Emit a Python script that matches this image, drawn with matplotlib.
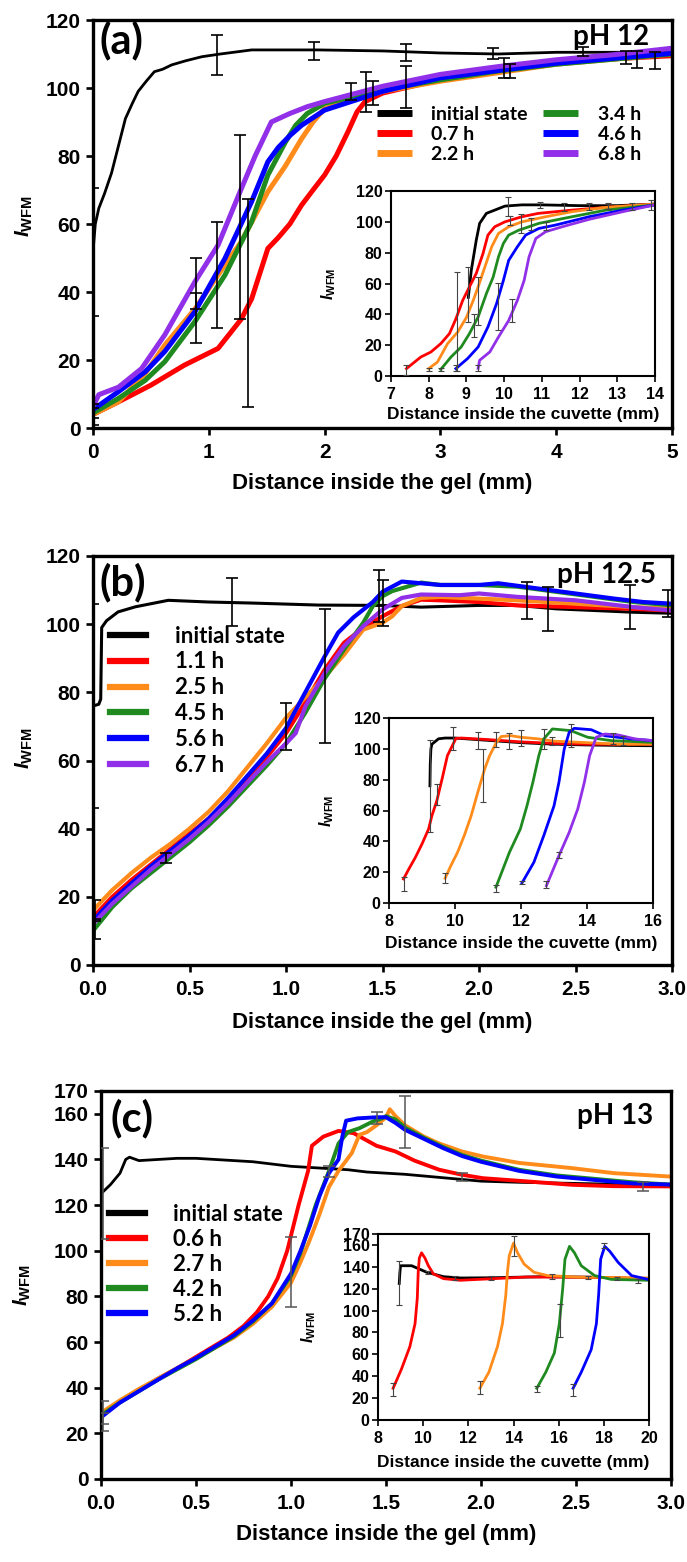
import matplotlib
matplotlib.use('Agg')
import matplotlib.pyplot as plt

plt.rcParams['font.family'] = ['Liberation Sans', 'DejaVu Sans']
plt.rcParams['font.weight'] = 'bold'
plt.rcParams['mathtext.fontset'] = 'custom'
plt.rcParams['mathtext.it'] = 'Liberation Sans:italic:bold'
plt.rcParams['mathtext.rm'] = 'Liberation Sans:bold'
plt.rcParams['mathtext.bf'] = 'Liberation Sans:bold'

# ---------------- panel (a), pH 12 ----------------
a_x_init = [0, 0.02, 0.05, 0.1, 0.16, 0.22, 0.28, 0.34, 0.39, 0.46, 0.53, 0.6, 0.68, 0.8, 0.94, 1.1, 1.37, 1.94, 2.5, 3.0, 3.5, 4.0, 4.5, 5.0]
a_y_init = [51.9, 60, 64.6, 69, 75, 83, 91, 95.5, 99, 102, 104.8, 105.5, 106.8, 108, 109.2, 110, 111.2, 111.2, 110.9, 110.3, 110, 110.5, 110.5, 110.5]
a_x_07 = [0, 0.22, 0.5, 0.79, 1.08, 1.28, 1.37, 1.51, 1.6, 1.7, 1.8, 1.9, 2.0, 2.1, 2.2, 2.28, 2.35, 2.5, 3.0, 3.5, 4.0, 4.5, 5.0]
a_y_07 = [4, 7.7, 12.6, 18.5, 23.4, 32, 38, 52.8, 56, 60, 65.5, 70, 74.4, 80, 87, 93, 96, 98.5, 102.5, 105.4, 107.3, 108.6, 109.5]
a_x_22 = [0, 0.22, 0.45, 0.62, 0.88, 1.08, 1.28, 1.51, 1.66, 1.8, 1.9, 2.0, 2.5, 3.0, 4.0, 5.0]
a_y_22 = [4, 7.7, 16, 24.4, 35, 45, 54.8, 69.5, 77, 85, 90, 94, 99, 102, 107, 110]
a_x_34 = [0, 0.22, 0.45, 0.62, 0.88, 1.14, 1.37, 1.51, 1.66, 1.75, 1.85, 2.0, 2.5, 3.0, 3.5, 4.0, 5.0]
a_y_34 = [4.4, 8.7, 14, 19.5, 31.3, 45, 60.7, 74.4, 84, 89, 92.5, 95.5, 99.5, 102.4, 105, 107, 110]
a_x_46 = [0, 0.22, 0.45, 0.62, 0.88, 1.14, 1.37, 1.51, 1.6, 1.7, 1.8, 2.0, 2.5, 3.0, 4.0, 5.0]
a_y_46 = [5.4, 10.7, 16.5, 22.5, 34.2, 49.9, 66.6, 78.3, 82.5, 86, 89, 93.5, 99, 103, 107.3, 110.2]
a_x_68 = [0, 0.05, 0.22, 0.42, 0.62, 0.88, 1.08, 1.27, 1.4, 1.54, 1.7, 1.85, 2.0, 2.5, 3.0, 3.5, 4.0, 4.5, 5.0]
a_y_68 = [6.3, 9.8, 12, 17.5, 27.4, 43, 53.8, 69.5, 80, 90, 92.5, 94.5, 96, 100.5, 104, 106.3, 108.3, 109.8, 111.7]
a_labels = ['initial state', '0.7 h', '2.2 h', '3.4 h', '4.6 h', '6.8 h']
a_err_x = [0.0, 0.0, 0.0, 0.89, 0.89, 1.07, 1.07, 1.27, 1.34, 1.91, 2.23, 2.36, 2.42, 2.7, 2.7, 3.45, 3.55, 3.6, 4.23, 4.6, 4.7, 4.85]
a_err_lo = [33, 1, 3, 25, 35, 103.8, 29.3, 32.2, 6.3, 108.2, 96.5, 93, 95, 94, 108, 108.5, 103, 103, 109.5, 107, 106, 105.5]
a_err_hi = [70.5, 7, 6, 50, 39.6, 115.6, 60.7, 86.2, 67.5, 113.6, 101.4, 104.8, 102, 106.5, 112.8, 111.7, 108.7, 107, 112, 111, 111, 110.5]

ai_x_init = [9.05, 9.13, 9.26, 9.35, 9.53, 9.75, 10.02, 10.47, 11.0, 12.0, 13.0, 14.0]
ai_y_init = [51, 68.7, 88, 99, 105.5, 107.6, 110.2, 111, 111, 110.5, 110.5, 111.5]
ai_x_07 = [7.41, 7.79, 8.06, 8.32, 8.55, 8.72, 8.9, 9.08, 9.26, 9.44, 9.57, 9.75, 10.02, 10.47, 10.91, 11.8, 12.7, 14.0]
ai_y_07 = [4.8, 12.3, 15.6, 21, 27.5, 37, 49, 57.8, 66.5, 79.5, 91.4, 96.8, 100, 103.3, 105.5, 107.6, 109.4, 111.5]
ai_x_22 = [8.0, 8.23, 8.5, 8.77, 9.0, 9.18, 9.31, 9.49, 9.67, 9.85, 10.12, 10.47, 11.1, 11.8, 12.7, 14.0]
ai_y_22 = [4.8, 9, 21, 28.6, 38, 49, 57.8, 70.8, 83.8, 92.5, 96.8, 100, 103.3, 106.6, 109.4, 111.5]
ai_x_34 = [8.32, 8.59, 8.86, 9.08, 9.31, 9.53, 9.71, 9.85, 9.98, 10.12, 10.39, 10.92, 11.8, 12.7, 14.0]
ai_y_34 = [4.3, 12.3, 18.8, 27.5, 38.3, 53.5, 64.3, 77.3, 86, 91.4, 94.6, 99, 103.3, 107.6, 111]
ai_x_46 = [8.72, 9.03, 9.31, 9.57, 9.8, 9.98, 10.12, 10.35, 10.57, 10.92, 11.36, 12.25, 13.15, 14.0]
ai_y_46 = [4.8, 11.3, 18.8, 31.8, 47, 62, 75, 83.8, 91.4, 95.7, 97.9, 103.3, 107.6, 111]
ai_x_68 = [9.31, 9.35, 9.62, 9.85, 10.12, 10.35, 10.53, 10.66, 10.84, 11.1, 11.54, 12.25, 13.15, 14.0]
ai_y_68 = [5, 10.2, 15.6, 25.3, 36, 49, 62, 77.3, 89.2, 93.6, 96.8, 101.6, 106.6, 111]
ai_err_x = [7.41, 8.0, 8.32, 8.72, 9.31, 8.75, 9.05, 9.2, 9.3, 9.85, 10.2, 10.1, 10.15, 10.45, 10.7, 10.95, 11.1, 11.6, 12.25, 12.75, 13.4, 13.9]
ai_err_lo = [0.5, 3, 3.5, 3, 3, 3, 35, 25.3, 33, 29.7, 35, 104, 98, 93, 95, 108.7, 94.7, 107, 107.5, 108.5, 108, 108]
ai_err_hi = [7, 5.5, 5, 7, 7, 67.5, 70.5, 40, 64.3, 60.6, 50, 115.9, 104, 104.8, 102.5, 112.6, 100, 112.4, 112, 112.5, 112, 114]

# ---------------- panel (b), pH 12.5 ----------------
b_x_init = [0, 0.03, 0.04, 0.045, 0.07, 0.13, 0.22, 0.39, 0.6, 0.82, 1.17, 1.5, 1.7, 2.0, 2.2, 2.4, 2.6, 2.8, 3.0]
b_y_init = [76, 76.5, 78, 99, 101, 103.6, 105.1, 107, 106.5, 106.2, 105.6, 105.5, 105, 105.5, 105.5, 104.5, 104, 103.5, 103.2]
b_x_11 = [0, 0.1, 0.2, 0.3, 0.4, 0.5, 0.6, 0.7, 0.8, 0.9, 1.0, 1.1, 1.2, 1.3, 1.4, 1.5, 1.6, 1.7, 1.8, 2.0, 2.2, 2.5, 2.8, 3.0]
b_y_11 = [14, 20, 25, 29.5, 34, 38.5, 43, 48.5, 54.5, 61, 68, 77, 86.6, 94.5, 98.9, 102.3, 105.3, 107.2, 107, 106.5, 105.5, 105, 104.5, 104]
b_x_25 = [0, 0.1, 0.2, 0.3, 0.4, 0.5, 0.6, 0.7, 0.8, 0.9, 1.0, 1.1, 1.2, 1.3, 1.4, 1.5, 1.55, 1.6, 1.7, 1.8, 2.0, 2.2, 2.5, 2.8, 3.0]
b_y_25 = [16, 22, 27, 31.5, 35.5, 40, 45, 51, 58, 65, 72.5, 78.5, 84.5, 91, 98.4, 100.4, 102.3, 105.3, 107.7, 108, 107.5, 107, 106, 105, 104.5]
b_x_45 = [0, 0.1, 0.2, 0.3, 0.4, 0.5, 0.6, 0.7, 0.8, 0.9, 1.0, 1.1, 1.2, 1.3, 1.4, 1.45, 1.5, 1.55, 1.7, 1.8, 2.0, 2.2, 2.4, 2.6, 2.8, 3.0]
b_y_45 = [10, 17, 22.5, 27, 31.5, 36, 41, 46.5, 52.5, 58.5, 65, 74, 84, 92.5, 100.4, 105.3, 108.2, 109.7, 112.2, 111.5, 111.5, 111, 109.5, 108, 106.5, 105.5]
b_x_56 = [0, 0.1, 0.2, 0.3, 0.4, 0.5, 0.6, 0.7, 0.8, 0.9, 1.0, 1.1, 1.2, 1.27, 1.35, 1.45, 1.5, 1.55, 1.6, 1.7, 1.8, 2.0, 2.1, 2.3, 2.5, 2.7, 2.85, 3.0]
b_y_56 = [13, 19, 24, 29, 33.5, 38, 43, 49, 55.5, 62, 69.5, 80, 90.5, 97.5, 102, 106.5, 109.5, 111, 112.5, 112, 111.5, 111.5, 112, 110.5, 109, 107.5, 106.5, 106]
b_x_67 = [0, 0.1, 0.2, 0.3, 0.4, 0.5, 0.6, 0.7, 0.8, 0.9, 1.0, 1.05, 1.1, 1.2, 1.3, 1.4, 1.5, 1.6, 1.7, 1.9, 2.0, 2.2, 2.5, 2.8, 3.0]
b_y_67 = [12, 18, 23, 28, 32.5, 37, 42, 47.5, 53.5, 59.5, 65, 68, 75.8, 85.6, 93.5, 99.4, 104.3, 107.7, 108.7, 108.5, 109, 108, 107, 105, 104]
b_labels = ['initial state', '1.1 h', '2.5 h', '4.5 h', '5.6 h', '6.7 h']
b_err_x = [0.0, 0.01, 0.01, 0.38, 0.72, 1.0, 1.2, 1.48, 1.5, 2.25, 2.36, 2.78, 2.98]
b_err_lo = [46, 7.5, 13, 30, 99.5, 63, 65, 100.5, 99.5, 101.5, 98, 98.5, 102]
b_err_hi = [106, 13.5, 19, 33, 113.5, 77, 104.5, 116, 113, 112.5, 111, 111.5, 110]

bi_x_init = [9.24, 9.25, 9.27, 9.3, 9.5, 9.7, 10.0, 11.0, 12.0, 13.0, 14.0, 15.0, 16.0]
bi_y_init = [76, 90, 100, 103, 106.5, 107, 107, 105.5, 104, 103, 102.5, 102.2, 102]
bi_x_11 = [8.44, 8.6, 8.8, 9.0, 9.2, 9.3, 9.45, 9.62, 9.77, 10.03, 10.2, 11.0, 12.0, 13.0, 14.0, 16.0]
bi_y_11 = [15.6, 22, 29.6, 38.3, 48, 56.6, 66.4, 81.5, 95.6, 106.8, 107, 106, 104.5, 103.5, 103, 103]
bi_x_25 = [9.7, 9.87, 10.08, 10.28, 10.49, 10.69, 10.9, 11.05, 11.25, 11.4, 11.7, 12.0, 12.5, 13.0, 14.0, 15.0, 16.0]
bi_y_25 = [16, 24, 33, 43.7, 56.6, 71.8, 87, 95.6, 104, 108, 108.5, 107.5, 106.5, 105, 104, 103, 103]
bi_x_45 = [11.24, 11.65, 11.98, 12.18, 12.36, 12.54, 12.69, 12.95, 13.51, 14.02, 14.74, 16.0]
bi_y_45 = [10.2, 32.9, 48, 63, 78.3, 95.6, 106.4, 112.9, 111.8, 107.5, 105.3, 104.2]
bi_x_56 = [12.03, 12.39, 12.69, 13.0, 13.15, 13.31, 13.46, 13.61, 14.13, 14.54, 15.36, 16.0]
bi_y_56 = [13, 26.4, 43.7, 63, 78.3, 99.9, 110.7, 113.3, 112.4, 108.5, 106.4, 105.3]
bi_x_67 = [12.77, 13.15, 13.46, 13.72, 13.92, 14.08, 14.28, 14.54, 14.95, 15.46, 16.0]
bi_y_67 = [11.2, 30.7, 45.8, 61, 78.3, 95.6, 107.5, 109.6, 109, 106.4, 105.3]
bi_err_x = [9.24, 9.45, 8.44, 9.7, 11.24, 12.03, 12.77, 13.15, 9.95, 10.85, 10.7, 11.25, 11.65, 12.0, 12.7, 12.95, 13.5, 14.78, 15.1]
bi_err_lo = [45.8, 63.6, 8, 13, 7, 12.5, 9.5, 29, 99.5, 65.3, 100, 101, 100, 102, 100, 102.5, 101, 103, 102.5]
bi_err_hi = [106, 77, 17, 19.5, 12, 14, 14, 33, 114, 100, 111, 111, 110, 112, 113, 107.5, 116, 110, 108]

# ---------------- panel (c), pH 13 ----------------
c_x_init = [0, 0.05, 0.1, 0.13, 0.15, 0.2, 0.3, 0.4, 0.5, 0.6, 0.7, 0.8, 0.9, 1.0, 1.1, 1.2, 1.3, 1.4, 1.5, 1.6, 1.8, 2.0, 2.2, 2.5, 2.8, 3.0]
c_y_init = [125, 129, 134, 140, 141, 139.5, 140, 140.5, 140.5, 140, 139.5, 139, 138, 137, 136.5, 136, 135.5, 134.5, 134, 133.5, 132, 130.5, 130, 129.5, 129, 128.5]
c_x_06 = [0, 0.1, 0.2, 0.3, 0.4, 0.5, 0.6, 0.67, 0.75, 0.82, 0.88, 0.93, 0.98, 1.04, 1.09, 1.11, 1.17, 1.25, 1.33, 1.45, 1.55, 1.65, 1.78, 1.9, 2.01, 2.24, 2.48, 2.7, 3.0]
c_y_06 = [28, 34, 39, 44, 48.5, 53.5, 58.5, 62, 67, 73, 80, 88, 100, 120, 135, 146, 150, 152.5, 151.5, 146, 143.5, 139.5, 135.5, 133.3, 131.8, 130.4, 128.9, 128.3, 128.2]
c_x_27 = [0, 0.1, 0.2, 0.3, 0.4, 0.5, 0.6, 0.7, 0.8, 0.9, 1.0, 1.05, 1.1, 1.15, 1.2, 1.25, 1.32, 1.36, 1.4, 1.45, 1.5, 1.52, 1.55, 1.6, 1.7, 1.78, 1.9, 2.01, 2.2, 2.48, 2.7, 3.0]
c_y_27 = [29, 34.5, 39.5, 44, 48.5, 53, 57.5, 62, 68, 75.5, 86, 95, 105, 116, 128, 135, 142.8, 150.8, 152, 155, 158.5, 162, 159, 155, 150, 147, 143.5, 141.3, 138.5, 136.2, 134, 132.5]
c_x_42 = [0, 0.1, 0.2, 0.3, 0.4, 0.5, 0.6, 0.7, 0.8, 0.9, 1.0, 1.05, 1.13, 1.2, 1.25, 1.3, 1.36, 1.43, 1.48, 1.5, 1.55, 1.6, 1.7, 1.8, 1.9, 2.0, 2.2, 2.4, 2.6, 2.8, 3.0]
c_y_42 = [28, 33.5, 38.5, 43.5, 48, 52.5, 57.5, 62.5, 69, 77, 89, 99, 120, 135, 147, 152, 153.7, 156.6, 158, 159, 157.5, 154, 149.5, 145.5, 142, 139.5, 135.5, 133, 131.5, 130, 129]
c_x_52 = [0, 0.1, 0.2, 0.3, 0.4, 0.5, 0.6, 0.7, 0.8, 0.9, 1.0, 1.05, 1.1, 1.15, 1.2, 1.25, 1.27, 1.29, 1.35, 1.45, 1.5, 1.55, 1.6, 1.7, 1.8, 1.9, 2.0, 2.1, 2.2, 2.4, 2.6, 2.8, 3.0]
c_y_52 = [27, 33.5, 38.5, 43.5, 48.5, 53, 58, 63, 69.5, 77, 90, 100, 111, 124, 134, 140, 150, 157, 158, 158.5, 158.5, 156, 153, 149, 145, 141.5, 139, 137, 135, 132.5, 131, 129.5, 129]
c_labels = ['initial state', '0.6 h', '2.7 h', '4.2 h', '5.2 h']
c_err_x = [0.01, 0.01, 0.01, 1.0, 1.2, 1.45, 1.6, 1.9, 2.85]
c_err_lo = [105, 21, 24, 75.5, 132.5, 155.5, 145, 130.5, 126]
c_err_hi = [145, 29, 34, 106, 137, 161, 168, 134, 130]

ci_x_init = [8.94, 8.97, 9.0, 9.49, 10.16, 10.9, 11.64, 13.0, 15.36, 17.5, 20.0]
ci_y_init = [124.8, 135, 141, 141, 135, 131, 129.8, 130, 131, 130.5, 129]
ci_x_06 = [8.67, 9.04, 9.41, 9.64, 9.74, 9.78, 9.83, 9.93, 10.08, 10.23, 10.45, 10.9, 11.64, 13.13, 14.62, 17.59, 20.0]
ci_y_06 = [29, 46.6, 67, 88, 111.5, 135, 148, 152.8, 148, 141, 133.6, 129.2, 127.7, 129.2, 130.7, 130.4, 129.2]
ci_x_27 = [12.51, 12.91, 13.29, 13.51, 13.66, 13.73, 13.81, 14.0, 14.18, 14.47, 14.91, 15.51, 16.85, 20.0]
ci_y_27 = [29, 43.7, 67, 88, 114.5, 135, 150, 161.7, 152.8, 142.5, 135, 132, 130.6, 129.8]
ci_x_42 = [15.03, 15.43, 15.81, 16.03, 16.18, 16.28, 16.48, 16.7, 17.0, 17.59, 18.33, 20.0]
ci_y_42 = [29, 43.7, 61.3, 88, 120.4, 147, 158.7, 152.8, 141, 132, 128.5, 127.7]
ci_x_52 = [16.64, 17.0, 17.44, 17.67, 17.77, 17.86, 18.04, 18.26, 18.64, 19.23, 20.0]
ci_y_52 = [29, 43.7, 64.3, 88, 114.5, 147, 158.7, 154.3, 143.9, 132, 128.3]
ci_err_x = [8.67, 8.95, 12.5, 14.0, 15.03, 16.05, 16.64, 18.0, 10.2, 11.4, 13.0, 15.7, 17.3, 18.6, 19.5]
ci_err_lo = [22, 105, 24, 150, 26, 75.5, 22, 157, 133, 128, 128, 129, 129, 128, 125]
ci_err_hi = [34, 145, 36, 168, 31, 105.6, 33, 162, 136, 132, 132, 133, 132, 131, 129]

col6 = ['black', '#ff0000', '#ff8c1a', '#1f8a1f', '#0000ff', '#9130e8']
col5 = ['black', '#ff0000', '#ff8c1a', '#1f8a1f', '#0000ff']

fig = plt.figure(figsize=(6.87, 15.62), dpi=100)
W, H = 687.0, 1562.0


def box(l, t, r, b):
    return [l / W, 1 - b / H, (r - l) / W, (b - t) / H]


def errs(ax, x, lo, hi, color, lw, cap):
    mid = [(p + q) / 2 for p, q in zip(lo, hi)]
    half = [(q - p) / 2 for p, q in zip(lo, hi)]
    ax.errorbar(x, mid, yerr=half, fmt='none', ecolor=color, elinewidth=lw,
                capsize=cap, capthick=lw, zorder=6)


def style(ax, xlim, ylim, xt, xtl, yt, size, spine_w, tick_len, pad):
    ax.set_xlim(*xlim)
    ax.set_ylim(*ylim)
    ax.set_xticks(xt)
    ax.set_xticklabels(xtl)
    ax.set_yticks(yt)
    ax.set_yticklabels([str(v) for v in yt])
    for s in ax.spines.values():
        s.set_linewidth(spine_w)
    ax.tick_params(direction='out', length=tick_len, width=spine_w * 0.8,
                   labelsize=size)
    ax.tick_params(axis='x', pad=pad + 2)
    ax.tick_params(axis='y', pad=pad)
    for lab in ax.get_xticklabels() + ax.get_yticklabels():
        lab.set_fontweight('bold')


ylab = r'$I_{\mathrm{WFM}}$'

# ================= (a) =================
ax = fig.add_axes(box(93, 20, 672, 428))
xs = [a_x_init, a_x_07, a_x_22, a_x_34, a_x_46, a_x_68]
ys = [a_y_init, a_y_07, a_y_22, a_y_34, a_y_46, a_y_68]
for i in range(6):
    ax.plot(xs[i], ys[i], color=col6[i], lw=2.0 if i == 0 else 3.6,
            label=a_labels[i], solid_capstyle='butt')
errs(ax, a_err_x, a_err_lo, a_err_hi, 'black', 1.2, 4.5)
style(ax, (0, 5), (0, 120), [0, 1, 2, 3, 4, 5], ['0', '1', '2', '3', '4', '5'],
      [0, 20, 40, 60, 80, 100, 120], 15, 2.4, 5, 4)
ax.set_xlabel('Distance inside the gel (mm)', fontsize=16, fontweight='bold')
ax.xaxis.set_label_coords(0.5, -0.11)
ax.set_ylabel(ylab, fontsize=15)
ax.yaxis.set_label_coords(-0.1, 0.52)
ax.text(0.012, 0.998, '(a)', transform=ax.transAxes, fontsize=30,
        fontweight='bold', va='top', ha='left', family='Lato')
ax.text(0.96, 0.99, 'pH 12', transform=ax.transAxes, fontsize=20,
        fontweight='bold', va='top', ha='right', family='Lato')
leg = ax.legend(ncol=2, loc='upper left', bbox_to_anchor=(0.49, 0.79),
                frameon=False, handlelength=1.8,
                handletextpad=1.0, columnspacing=0.8, labelspacing=0.15,
                borderpad=0, borderaxespad=0, prop={'family': 'Lato', 'weight': 'bold', 'size': 14})
for h in leg.get_lines():
    h.set_linewidth(5)

ins = fig.add_axes(box(391, 191, 655, 376))
xs = [ai_x_init, ai_x_07, ai_x_22, ai_x_34, ai_x_46, ai_x_68]
ys = [ai_y_init, ai_y_07, ai_y_22, ai_y_34, ai_y_46, ai_y_68]
for i in range(6):
    ins.plot(xs[i], ys[i], color=col6[i], lw=2.0)
errs(ins, ai_err_x, ai_err_lo, ai_err_hi, '#444444', 0.8, 2.5)
style(ins, (7, 14), (0, 120), list(range(7, 15)), [str(v) for v in range(7, 15)],
      [0, 20, 40, 60, 80, 100, 120], 11.5, 1.5, 4, 2)
ins.set_xlabel('Distance inside the cuvette (mm)', fontsize=12.5, fontweight='bold')
ins.xaxis.set_label_coords(0.5, -0.17)
ins.set_ylabel(ylab, fontsize=11.5)
ins.yaxis.set_label_coords(-0.2, 0.5)

# ================= (b) =================
ax = fig.add_axes(box(93, 556, 672, 965))
xs = [b_x_init, b_x_11, b_x_25, b_x_45, b_x_56, b_x_67]
ys = [b_y_init, b_y_11, b_y_25, b_y_45, b_y_56, b_y_67]
for i in range(6):
    ax.plot(xs[i], ys[i], color=col6[i], lw=2.2 if i == 0 else 3.0,
            label=b_labels[i])
errs(ax, b_err_x, b_err_lo, b_err_hi, 'black', 1.2, 4.5)
bx = [0.0, 0.5, 1.0, 1.5, 2.0, 2.5, 3.0]
style(ax, (0, 3), (0, 120), bx, ['%.1f' % v for v in bx],
      [0, 20, 40, 60, 80, 100, 120], 15, 2.4, 5, 4)
ax.set_xlabel('Distance inside the gel (mm)', fontsize=16, fontweight='bold')
ax.xaxis.set_label_coords(0.5, -0.115)
ax.set_ylabel(ylab, fontsize=15)
ax.yaxis.set_label_coords(-0.1, 0.53)
ax.text(0.012, 0.985, '(b)', transform=ax.transAxes, fontsize=30,
        fontweight='bold', va='top', ha='left', family='Lato')
ax.text(0.972, 0.985, 'pH 12.5', transform=ax.transAxes, fontsize=20,
        fontweight='bold', va='top', ha='right', family='Lato')
leg = ax.legend(loc='upper left', bbox_to_anchor=(0.03, 0.83),
                frameon=False, handlelength=1.6, handletextpad=1.3,
                labelspacing=0.22, borderpad=0, borderaxespad=0,
                prop={'family': 'Lato', 'weight': 'bold', 'size': 16})
for h in leg.get_lines():
    h.set_linewidth(4.5)

ins = fig.add_axes(box(389, 718, 653, 903))
xs = [bi_x_init, bi_x_11, bi_x_25, bi_x_45, bi_x_56, bi_x_67]
ys = [bi_y_init, bi_y_11, bi_y_25, bi_y_45, bi_y_56, bi_y_67]
for i in range(6):
    ins.plot(xs[i], ys[i], color=col6[i], lw=2.0)
errs(ins, bi_err_x, bi_err_lo, bi_err_hi, '#444444', 0.8, 2.5)
style(ins, (8, 16), (0, 120), [8, 10, 12, 14, 16], ['8', '10', '12', '14', '16'],
      [0, 20, 40, 60, 80, 100, 120], 11.5, 1.5, 4, 2)
ins.set_xlabel('Distance inside the cuvette (mm)', fontsize=12.5, fontweight='bold')
ins.xaxis.set_label_coords(0.5, -0.18)
ins.set_ylabel(ylab, fontsize=11.5)
ins.yaxis.set_label_coords(-0.2, 0.5)

# ================= (c) =================
ax = fig.add_axes(box(101, 1091, 671, 1479))
xs = [c_x_init, c_x_06, c_x_27, c_x_42, c_x_52]
ys = [c_y_init, c_y_06, c_y_27, c_y_42, c_y_52]
for i in range(5):
    ax.plot(xs[i], ys[i], color=col5[i], lw=2.0 if i == 0 else 2.8,
            label=c_labels[i])
errs(ax, c_err_x, c_err_lo, c_err_hi, '#555555', 1.1, 4.5)
cy = [0, 20, 40, 60, 80, 100, 120, 140, 160, 170]
style(ax, (0, 3), (0, 170), bx, ['%.1f' % v for v in bx], cy, 15, 2.4, 5, 4)
ax.set_xlabel('Distance inside the gel (mm)', fontsize=16, fontweight='bold')
ax.xaxis.set_label_coords(0.5, -0.115)
ax.set_ylabel(ylab, fontsize=15)
ax.yaxis.set_label_coords(-0.12, 0.5)
ax.text(0.017, 0.98, '(c)', transform=ax.transAxes, fontsize=30,
        fontweight='bold', va='top', ha='left', family='Lato')
ax.text(0.968, 0.97, 'pH 13', transform=ax.transAxes, fontsize=20,
        fontweight='bold', va='top', ha='right', family='Lato')
leg = ax.legend(loc='upper left', bbox_to_anchor=(0.014, 0.71),
                frameon=False, handlelength=1.6, handletextpad=1.3,
                labelspacing=0.18, borderpad=0, borderaxespad=0,
                prop={'family': 'Lato', 'weight': 'bold', 'size': 16})
for h in leg.get_lines():
    h.set_linewidth(4.5)

ins = fig.add_axes(box(378, 1234, 649, 1420))
xs = [ci_x_init, ci_x_06, ci_x_27, ci_x_42, ci_x_52]
ys = [ci_y_init, ci_y_06, ci_y_27, ci_y_42, ci_y_52]
for i in range(5):
    ins.plot(xs[i], ys[i], color=col5[i], lw=2.0)
errs(ins, ci_err_x, ci_err_lo, ci_err_hi, '#444444', 0.8, 2.5)
cix = [8, 10, 12, 14, 16, 18, 20]
style(ins, (8, 20), (0, 170), cix, [str(v) for v in cix], cy, 11.5, 1.5, 4, 2)
ins.set_xlabel('Distance inside the cuvette (mm)', fontsize=12.5, fontweight='bold')
ins.xaxis.set_label_coords(0.5, -0.19)
ins.set_ylabel(ylab, fontsize=11.5)
ins.yaxis.set_label_coords(-0.22, 0.5)

fig.savefig('out.png', dpi=100)
